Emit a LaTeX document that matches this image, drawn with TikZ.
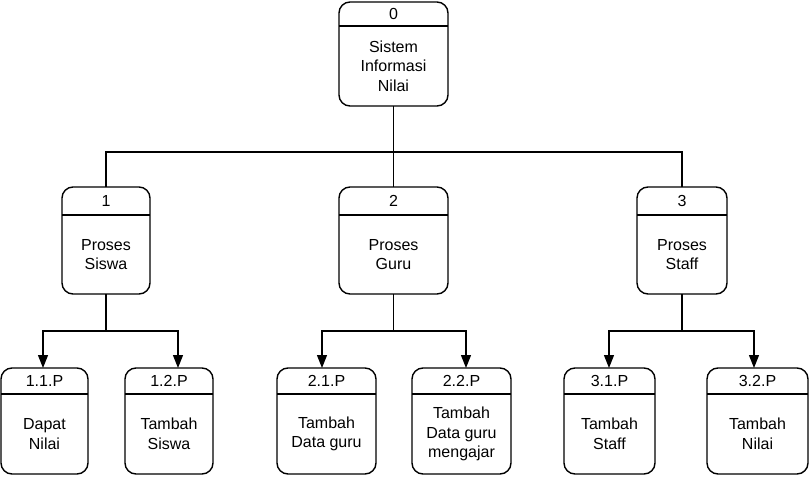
\documentclass[tikz,border=0pt]{standalone}
\usepackage{fontspec}
\setmainfont{Liberation Sans}
\usetikzlibrary{arrows.meta,fit}
\tikzset{
  proc/.style={draw, line width=1.4pt, rounded corners=11pt, inner sep=0pt, outer sep=0pt},
  hdr/.style={line width=1.4pt},
  lbl/.style={font=\fontsize{16}{19.5}\selectfont, align=center, inner sep=0pt},
  conn/.style={line width=1.3pt},
  arr/.style={conn, -{Triangle[width=10pt,length=13pt]}},
}
% name, x1, y1, x2, y2, yheader, number, text
\newcommand\procbox[8]{%
  \node[proc, fit={(#2,#3) (#4,#5)}] (#1) {};
  \draw[hdr] (#1.west |- 0,#6) -- (#1.east |- 0,#6);
  \node[lbl] (#1-num) at ({(#2+#4)/2},{(#3+#6)/2}) {#7};
  \node[lbl] (#1-txt) at ({(#2+#4)/2},{(#6+#5)/2}) {#8};
}
\begin{document}
\begin{tikzpicture}[x=1pt,y=-1pt]
\useasboundingbox (0,0) rectangle (810,492);
\procbox{n0}{339}{2}{448}{106}{26}{0}{Sistem\\Informasi\\Nilai}
\procbox{n1}{62}{187}{150}{294}{215}{1}{Proses\\Siswa}
\procbox{n2}{339}{187}{448}{294}{215}{2}{Proses\\Guru}
\procbox{n3}{637}{187}{727}{294}{215}{3}{Proses\\Staff}
\procbox{n11}{1}{368}{88}{474}{394}{1.1.P}{Dapat\\Nilai}
\procbox{n12}{125}{368}{213}{474}{394}{1.2.P}{Tambah\\Siswa}
\procbox{n21}{277}{368}{376}{474}{394}{2.1.P}{Tambah\\Data guru}
\procbox{n22}{412}{368}{511}{474}{394}{2.2.P}{Tambah\\Data guru\\mengajar}
\procbox{n31}{564}{368}{655}{474}{394}{3.1.P}{Tambah\\Staff}
\procbox{n32}{707}{368}{808}{474}{394}{3.2.P}{Tambah\\Nilai}
% level 0 -> level 1
\draw[conn] (n0.south) -- (n0.south |- 0,152) coordinate (j0);
\draw[conn] (n1.north) |- (j0) -| (n3.north);
\draw[conn] (j0) -- (n2.north);
% level 1 -> level 2
\draw[conn] (n1.south) -- (n1.south |- 0,331) coordinate (j1);
\draw[arr] (j1) -| (n11.north -| 43,0);
\draw[arr] (j1) -| (n12.north -| 178,0);
\draw[conn] (n2.south) -- (n2.south |- 0,331) coordinate (j2);
\draw[arr] (j2) -| (n21.north -| 322,0);
\draw[arr] (j2) -| (n22.north -| 466,0);
\draw[conn] (n3.south) -- (n3.south |- 0,331) coordinate (j3);
\draw[arr] (j3) -| (n31.north -| 609,0);
\draw[arr] (j3) -| (n32.north -| 754,0);
\end{tikzpicture}
\end{document}
